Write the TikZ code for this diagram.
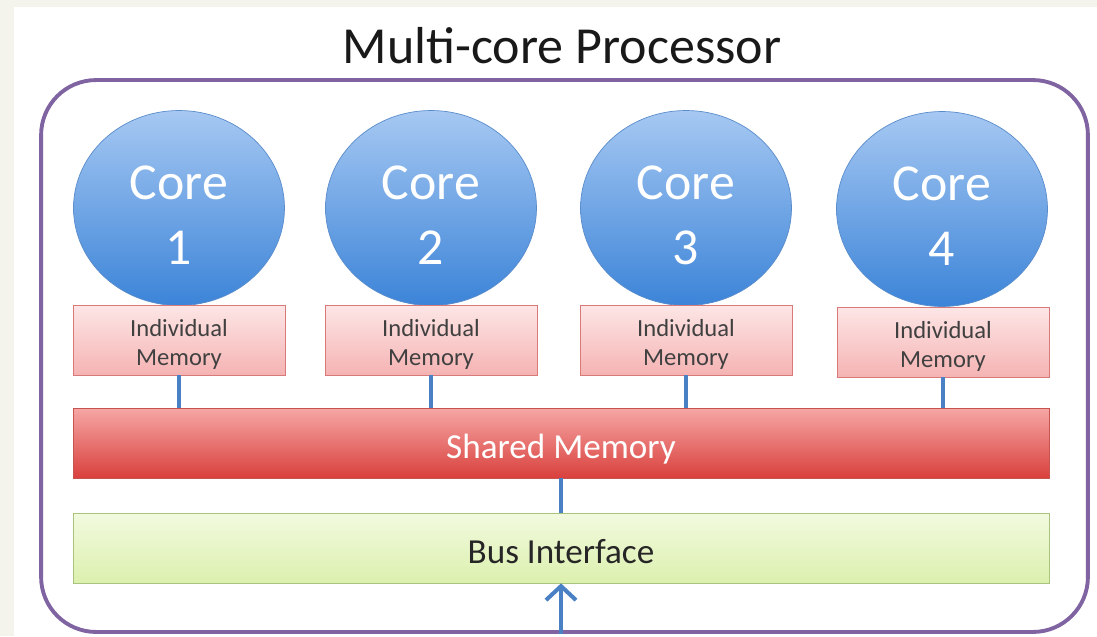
\documentclass[tikz,border=0pt]{standalone}
\usepackage{fontspec}
\setmainfont{Carlito}
\usetikzlibrary{arrows.meta,shapes.geometric}
\definecolor{framepurple}{HTML}{8064A2}
\definecolor{coretop}{HTML}{A6C8F2}
\definecolor{corebot}{HTML}{3C84D8}
\definecolor{coreline}{HTML}{5A8CCB}
\definecolor{imtop}{HTML}{FDE6E6}
\definecolor{imbot}{HTML}{F5B3B3}
\definecolor{imline}{HTML}{D97A7A}
\definecolor{smtop}{HTML}{F6A7A5}
\definecolor{smbot}{HTML}{D9403C}
\definecolor{smline}{HTML}{C65450}
\definecolor{bustop}{HTML}{F2FADF}
\definecolor{busbot}{HTML}{DCF0AE}
\definecolor{busline}{HTML}{A9C47C}
\definecolor{linkblue}{HTML}{4A80C4}
\definecolor{pagebg}{HTML}{F4F3EC}

\begin{document}
\begin{tikzpicture}[x=0.02cm,y=-0.02cm]
					\tikzstyle{core}=[ellipse,draw=coreline,top color=coretop,bottom color=corebot,minimum width=4.22cm,minimum height=3.9cm,inner sep=0pt]
					\tikzstyle{corelabel}=[text=white,align=center,yshift=-4pt,font=\fontsize{29.5}{37}\selectfont]
					\tikzstyle{indmem}=[rectangle,draw=imline,top color=imtop,bottom color=imbot,minimum width=4.24cm,minimum height=1.4cm,inner sep=0pt]
					\tikzstyle{memlabel}=[text=black!75,align=center,yshift=-2.6pt,font=\fontsize{14}{16.5}\selectfont]
					\tikzstyle{bar}=[rectangle,minimum width=19.52cm,minimum height=1.4cm,inner sep=0pt,text height=18pt,text depth=0pt,font=\fontsize{20}{24}\selectfont]
					\tikzstyle{link}=[draw=linkblue,line width=2.3pt]
					\useasboundingbox (0,0) rectangle (1097,636);
					\fill[pagebg] (0,0) rectangle (1097,636);
					\fill[white] (14,7) rectangle (1097,636);
					\node[text=black!90] (title) at (562,46) {\fontsize{29.6}{34}\selectfont Multi-core Processor};
					\node[draw=framepurple,line width=2.2pt,rounded corners=1.1cm,minimum width=20.94cm,minimum height=11.04cm] (frame) at (564.5,356) {};
					\node[core,label={[corelabel]center:Core\\1}] (c1) at (179,208) {};
					\node[core,label={[corelabel]center:Core\\2}] (c2) at (431,208) {};
					\node[core,label={[corelabel]center:Core\\3}] (c3) at (686,208) {};
					\node[core,label={[corelabel]center:Core\\4}] (c4) at (942,209) {};
					\node[indmem,label={[memlabel]center:Individual\\Memory}] (m1) at (179,340) {};
					\node[indmem,label={[memlabel]center:Individual\\Memory}] (m2) at (431,340) {};
					\node[indmem,label={[memlabel]center:Individual\\Memory}] (m3) at (686,340) {};
					\node[indmem,label={[memlabel]center:Individual\\Memory}] (m4) at (943,342) {};
					\node[bar,draw=smline,top color=smtop,bottom color=smbot,text=white] (shared) at (561,443) {Shared Memory};
					\node[bar,draw=busline,top color=bustop,bottom color=busbot,text=black!85] (bus) at (561,548) {Bus Interface};
					\draw[link] (m1.south) -- (m1.south |- shared.north);
					\draw[link] (m2.south) -- (m2.south |- shared.north);
					\draw[link] (m3.south) -- (m3.south |- shared.north);
					\draw[link] (m4.south) -- (m4.south |- shared.north);
					\draw[link] (shared.south) -- (bus.north);
					\draw[link,-{Straight Barb[length=2.8mm,width=6mm,line width=2.3pt]}] (bus.south |- frame.south) -- (bus.south);
					\end{tikzpicture}
\end{document}
